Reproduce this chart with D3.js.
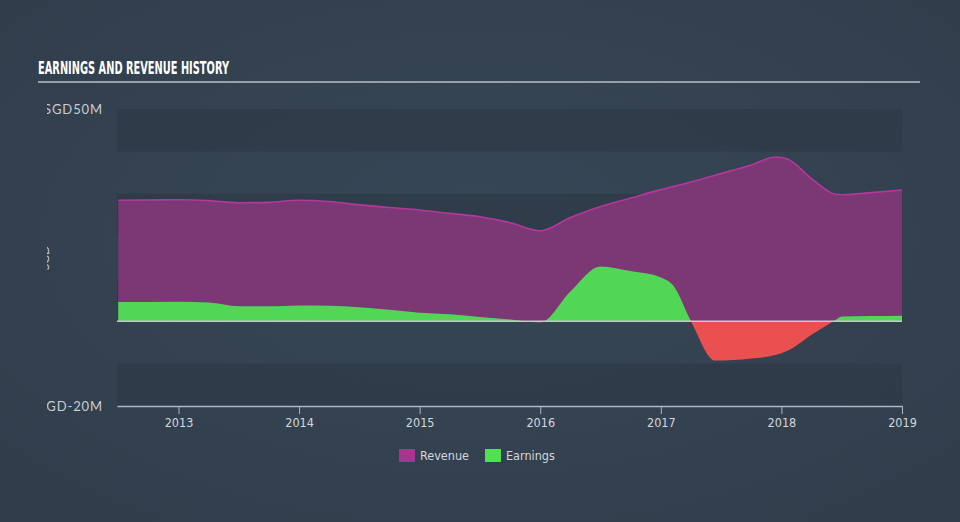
<!DOCTYPE html>
<html><head><meta charset="utf-8">
<script src="https://cdn.jsdelivr.net/npm/d3@7"></script>
<style>
html,body{margin:0;padding:0;background:#333f4e;}
svg{display:block;}
</style></head>
<body>
<svg id="chart" width="960" height="522"></svg>
<script>
// ---- data (decimal years, SGD millions) ----
const dates    = [2012.5, 2013.0, 2013.25, 2013.5, 2013.75, 2014.0, 2014.25, 2014.5, 2014.75, 2015.0, 2015.25, 2015.5, 2015.75, 2016.0, 2016.25, 2016.5, 2016.75, 2017.0, 2017.1, 2017.25, 2017.45, 2017.75, 2017.95, 2018.05, 2018.25, 2018.45, 2018.5, 2018.75, 2019.0];
const revenue  = [28.5, 28.6, 28.4, 27.9, 28.0, 28.5, 28.2, 27.4, 26.8, 26.2, 25.4, 24.6, 23.2, 21.3, 24.4, 27.0, 29.0, 31.0, 31.7, 32.8, 34.4, 36.8, 38.7, 38.2, 33.6, 29.9, 29.8, 30.3, 30.9];
const earnings = [4.5, 4.6, 4.4, 3.5, 3.5, 3.7, 3.6, 3.3, 2.7, 2.0, 1.6, 1.0, 0.4, -0.3, 7.0, 12.9, 11.8, 10.3, 8.5, 0.0, -9.3, -8.8, -8.0, -7.0, -3.2, 0.3, 1.1, 1.2, 1.3];
const yearTicks = [2013, 2014, 2015, 2016, 2017, 2018, 2019];
const yTickValues = [50, -20];
const yTickLabels = ["SGD50M", "SGD-20M"];
const bandStops = [50, 40, 30, 20, 10, 0, -10, -20];
const seriesNames = ["Revenue", "Earnings"];
const title = "EARNINGS AND REVENUE HISTORY";

const svg = d3.select("#chart");
const W = 960, H = 522;
const mLeft = 117, mRight = 902, mTop = 109, mBottom = 406;
const condensed = "'DejaVu Sans Condensed','Liberation Sans Narrow',sans-serif";

// background
const defs = svg.append("defs");
const rg = defs.append("radialGradient").attr("id","bg").attr("cx","50%").attr("cy","45%").attr("r","70%");
rg.append("stop").attr("offset","0%").attr("stop-color","#374757");
rg.append("stop").attr("offset","100%").attr("stop-color","#313d4b");
svg.append("rect").attr("width",W).attr("height",H).attr("fill","url(#bg)");

const x = d3.scaleLinear().domain([2012.49, 2019.0]).range([mLeft, mRight]);
const y = d3.scaleLinear().domain([-20, 50]).range([mBottom, mTop]);

// title
svg.append("text").attr("x",38).attr("y",74).text(title)
  .attr("fill","#ffffff").attr("font-family",condensed)
  .attr("font-weight","bold").attr("font-size",17).attr("textLength",191).attr("lengthAdjust","spacingAndGlyphs");
svg.append("line").attr("x1",38).attr("x2",920).attr("y1",82).attr("y2",82)
  .attr("stroke","#b9c0c7").attr("stroke-width",1.5);

// bands
for (let i = 0; i < bandStops.length - 1; i += 2) {
  svg.append("rect").attr("x",mLeft).attr("width",mRight-mLeft)
    .attr("y",y(bandStops[i])).attr("height",y(bandStops[i+1]) - y(bandStops[i]))
    .attr("fill","#2d3947").attr("opacity",0.75);
}

// y labels with clipping
defs.append("clipPath").attr("id","ylab").append("rect").attr("x",47).attr("y",0).attr("width",70).attr("height",H);
const yl = svg.append("g").attr("clip-path","url(#ylab)");
yTickValues.forEach((v,i) => {
  yl.append("text").attr("x",103).attr("y",y(v)).attr("dy","0.35em").attr("text-anchor","end")
    .attr("fill","#c9ced4").attr("font-family","Lato,'Open Sans',sans-serif").attr("font-size",13)
    .attr("letter-spacing",0.9).text(yTickLabels[i]);
});
yl.append("text").attr("transform","translate(49,258) rotate(-90)").attr("text-anchor","middle")
  .attr("fill","#c9ced4").attr("font-family","Lato,sans-serif").attr("font-size",12).text("SGD");

// revenue area
const revData = dates.map((d,i)=>({d, v: revenue[i]}));
const earnData = dates.map((d,i)=>({d, v: earnings[i]}));
const curve = d3.curveMonotoneX;
const revArea = d3.area().x(p=>x(p.d)).y0(y(0)).y1(p=>y(p.v)).curve(curve);
const revLine = d3.line().x(p=>x(p.d)).y(p=>y(p.v)).curve(curve);
svg.append("path").datum(revData).attr("d",revArea).attr("fill","#7b3874");
svg.append("path").datum(revData).attr("d",revLine).attr("fill","none").attr("stroke","#b4379c").attr("stroke-width",1.6);

// earnings area split into positive/negative via clip paths
defs.append("clipPath").attr("id","pos").append("rect").attr("x",mLeft).attr("y",0).attr("width",mRight-mLeft).attr("height",y(0));
defs.append("clipPath").attr("id","neg").append("rect").attr("x",mLeft).attr("y",y(0)).attr("width",mRight-mLeft).attr("height",H-y(0));
const earnArea = d3.area().x(p=>x(p.d)).y0(y(0)).y1(p=>y(p.v)).curve(curve);
svg.append("path").datum(earnData).attr("d",earnArea).attr("fill","#52d655").attr("clip-path","url(#pos)");
svg.append("path").datum(earnData).attr("d",earnArea).attr("fill","#ea5050").attr("clip-path","url(#neg)");

// zero line
svg.append("line").attr("x1",mLeft).attr("x2",mRight).attr("y1",y(0)).attr("y2",y(0))
  .attr("stroke","#c3c9cf").attr("stroke-width",1.5);

// x axis
const xAxis = d3.axisBottom(x).tickValues(yearTicks).tickFormat(d3.format("d")).tickSize(8).tickSizeOuter(0).tickPadding(4);
const gx = svg.append("g").attr("transform",`translate(0,${mBottom})`).call(xAxis);
gx.select(".domain").attr("stroke","#aeb6bf").attr("stroke-width",1.5);
gx.selectAll(".tick line").attr("stroke","#aeb6bf");
gx.selectAll("text").attr("fill","#d3d7dc").attr("font-family",condensed).attr("font-size",12.5);

// legend
const legendColors = ["#a8368f", "#52e052"];
const legendX = [399, 485];
seriesNames.forEach((n,i)=>{
  svg.append("rect").attr("x",legendX[i]).attr("y",449).attr("width",16).attr("height",13).attr("fill",legendColors[i]);
  svg.append("text").attr("x",legendX[i]+21).attr("y",456).attr("dy","0.35em").text(n)
    .attr("fill","#d3d7dc").attr("font-family",condensed).attr("font-size",12.5);
});
</script>
</body></html>
